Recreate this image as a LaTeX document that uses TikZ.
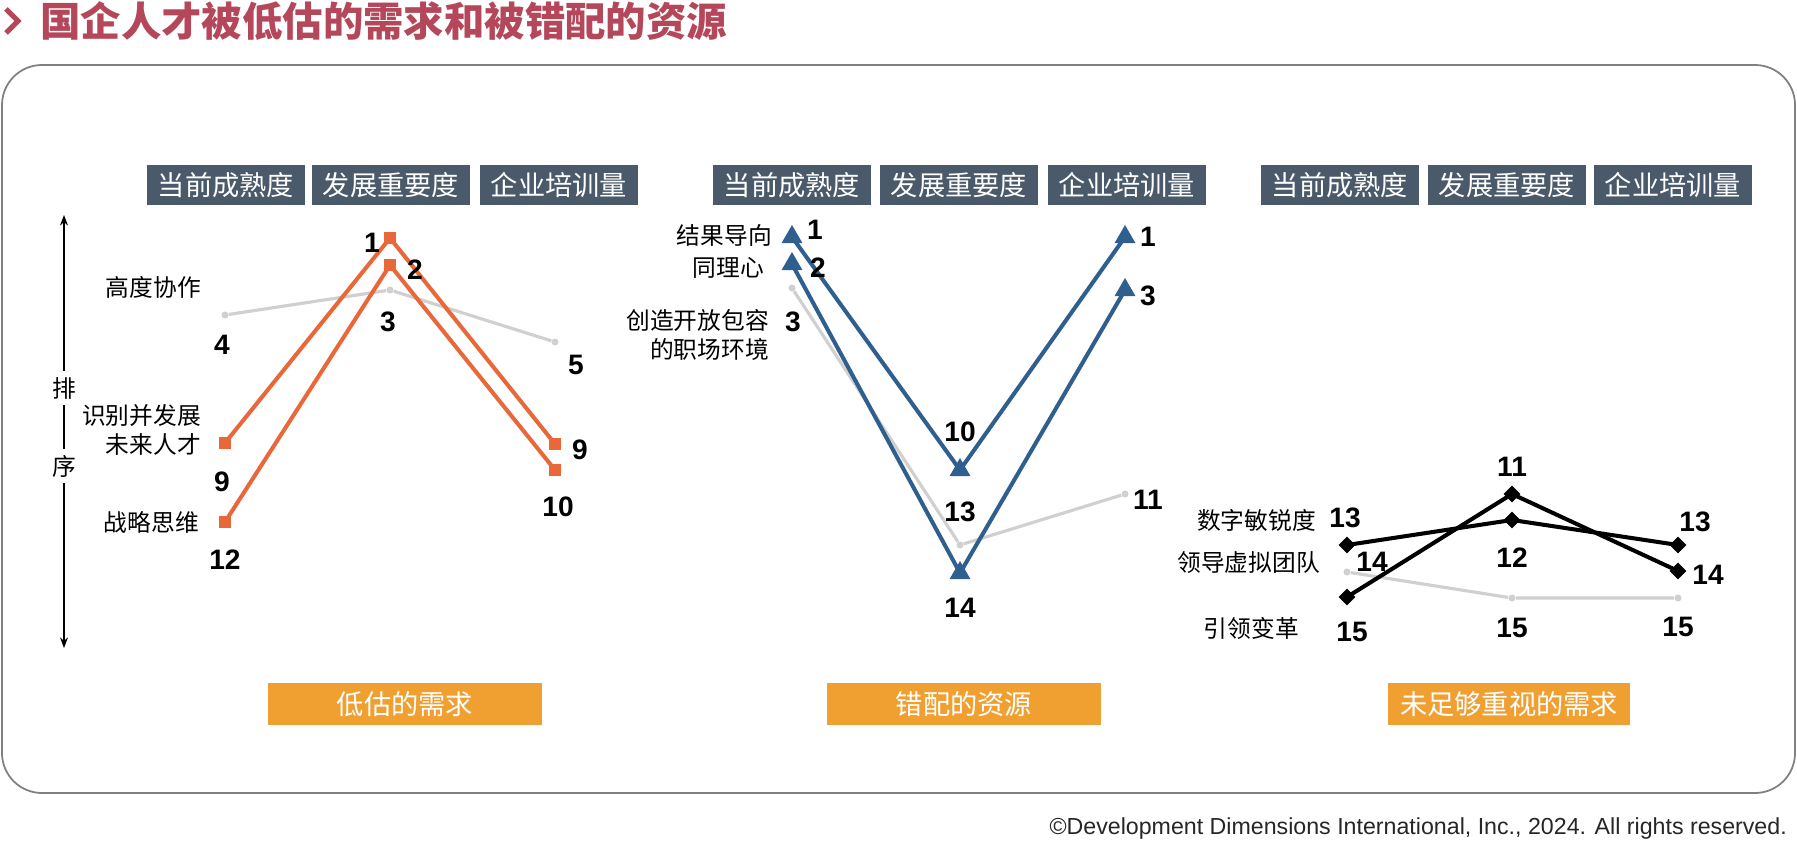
\documentclass[tikz,border=0pt]{standalone}
\usepackage{fontspec}
\setmainfont{Liberation Sans}
\newfontfamily\cjk{Noto Sans CJK SC}
\usetikzlibrary{shapes.geometric,arrows.meta}
\definecolor{ttl}{HTML}{B5475B}
\definecolor{hdr}{HTML}{4A5A6A}
\definecolor{org}{HTML}{E8683A}
\definecolor{bar}{HTML}{F0A030}
\definecolor{blu}{HTML}{2E5F8F}
\definecolor{gry}{HTML}{D0D0D0}
\begin{document}
\begin{tikzpicture}[x=0.02cm,y=-0.02cm,
  hbox/.style={fill=hdr,text=white,font=\cjk\fontsize{15.5}{17}\selectfont,minimum width=158*0.02cm,minimum height=40*0.02cm,inner sep=0pt},
  bbox/.style={fill=bar,text=white,font=\cjk\fontsize{15.5}{17}\selectfont,minimum height=42*0.02cm,inner sep=0pt},
  lbl/.style={font=\cjk\fontsize{13.5}{17}\selectfont,align=right},
  num/.style={font=\bfseries\fontsize{16}{18}\selectfont},
  sq/.style={rectangle,fill=org,minimum size=12*0.02cm,inner sep=0pt},
  tri/.style={isosceles triangle,isosceles triangle apex angle=60,shape border rotate=90,fill=blu,minimum size=18*0.02cm,inner sep=0pt},
  dia/.style={diamond,fill=black,minimum size=17*0.02cm,inner sep=0pt},
  dot/.style={circle,fill=gry,minimum size=7*0.02cm,inner sep=0pt},
  oline/.style={org,line width=2.3pt},
  bline/.style={blu,line width=2.3pt},
  kline/.style={black,line width=2.3pt},
  gline/.style={gry,line width=1.8pt}]
\useasboundingbox (0,0) rectangle (1797,841);
% title
\draw[ttl,line width=3pt] (6,9) -- (18,21) -- (6,33);
\node[anchor=west,text=ttl,font=\cjk\bfseries\fontsize{23}{26}\selectfont] (title) at (34,21) {国企人才被低估的需求和被错配的资源};
\draw[gray,line width=1pt,rounded corners=40*0.02cm] (2,65) rectangle (1795,793);
\node[anchor=east,font=\fontsize{13.2}{15}\selectfont,text=black!85] (copy) at (1793,828) {©Development Dimensions International, Inc., 2024. All rights reserved.};
% axis
\coordinate (at) at (64,215); \coordinate (ab) at (64,648);
\draw[{Stealth[length=6pt]}-{Stealth[length=6pt]},line width=0.8pt] (at) -- (ab);
\node[fill=white,lbl] (p1) at (64,388) {排};
\node[fill=white,lbl] (p2) at (64,466) {序};
% headers
\foreach \x/\t [count=\i] in {226/当前成熟度,391/发展重要度,559/企业培训量,792/当前成熟度,959/发展重要度,1127/企业培训量,1340/当前成熟度,1507/发展重要度,1673/企业培训量}
  \node[hbox] (h\i) at (\x,185) {\t};
% bars
\node[bbox,minimum width=274*0.02cm] (b1) at (405,704) {低估的需求};
\node[bbox,minimum width=274*0.02cm] (b2) at (964,704) {错配的资源};
\node[bbox,minimum width=242*0.02cm] (b3) at (1509,704) {未足够重视的需求};
% panel 1
\node[dot] (g1) at (225,315) {}; \node[dot] (g2) at (390,290) {}; \node[dot] (g3) at (555,342) {};
\draw[gline] (g1) -- (g2) -- (g3);
\coordinate (oa1) at (225,443); \coordinate (oa2) at (390,238); \coordinate (oa3) at (555,444);
\coordinate (ob1) at (225,522); \coordinate (ob2) at (390,265); \coordinate (ob3) at (555,470);
\draw[oline] (oa1) -- (oa2) -- (oa3); \draw[oline] (ob1) -- (ob2) -- (ob3);
\foreach \c in {oa1,oa2,oa3,ob1,ob2,ob3} \node[sq] at (\c) {};
\node[num] (n1) at (222,345) {4}; \node[num] (n2) at (388,322) {3}; \node[num] (n3) at (576,365) {5};
\node[num] (n4) at (222,482) {9}; \node[num] (n5) at (372,243) {1}; \node[num] (n6) at (580,450) {9};
\node[num] (n7) at (225,560) {12}; \node[num] (n8) at (415,270) {2}; \node[num] (n9) at (558,507) {10};
\node[lbl,anchor=east] (l1) at (207,287) {高度协作};
\node[lbl,anchor=east] (l2) at (207,430) {识别并发展\\未来人才};
\node[lbl,anchor=east] (l3) at (205,522) {战略思维};
% panel 2
\node[dot] (q1) at (792,288) {}; \node[dot] (q2) at (960,545) {}; \node[dot] (q3) at (1125,494) {};
\draw[gline] (q1) -- (q2) -- (q3);
\coordinate (ba1) at (792,237); \coordinate (ba2) at (960,470); \coordinate (ba3) at (1125,237);
\coordinate (bb1) at (792,264); \coordinate (bb2) at (960,573); \coordinate (bb3) at (1125,290);
\draw[bline] (ba1) -- (ba2) -- (ba3); \draw[bline] (bb1) -- (bb2) -- (bb3);
\foreach \c in {ba1,ba2,ba3,bb1,bb2,bb3} \node[tri] at (\c) {};
\node[num] (m1) at (815,230) {1}; \node[num] (m2) at (960,432) {10}; \node[num] (m3) at (1148,237) {1};
\node[num] (m4) at (818,268) {2}; \node[num] (m5) at (960,608) {14}; \node[num] (m6) at (1148,296) {3};
\node[num] (m7) at (793,322) {3}; \node[num] (m8) at (960,512) {13}; \node[num] (m9) at (1148,500) {11};
\node[lbl,anchor=east] (k1) at (778,235) {结果导向};
\node[lbl,anchor=east] (k2) at (770,268) {同理心};
\node[lbl,anchor=east] (k3) at (775,335) {创造开放包容\\的职场环境};
% panel 3
\node[dot] (r1) at (1347,572) {}; \node[dot] (r2) at (1512,598) {}; \node[dot] (r3) at (1678,598) {};
\draw[gline] (r1) -- (r2) -- (r3);
\coordinate (da1) at (1347,545); \coordinate (da2) at (1512,520); \coordinate (da3) at (1678,545);
\coordinate (db1) at (1347,597); \coordinate (db2) at (1512,494); \coordinate (db3) at (1678,571);
\draw[kline] (da1) -- (da2) -- (da3); \draw[kline] (db1) -- (db2) -- (db3);
\foreach \c in {da1,da2,da3,db1,db2,db3} \node[dia] at (\c) {};
\node[num] (s1) at (1345,518) {13}; \node[num] (s2) at (1512,558) {12}; \node[num] (s3) at (1695,522) {13};
\node[num] (s4) at (1352,632) {15}; \node[num] (s5) at (1512,467) {11}; \node[num] (s6) at (1708,575) {14};
\node[num] (s7) at (1372,562) {14}; \node[num] (s8) at (1512,628) {15}; \node[num] (s9) at (1678,627) {15};
\node[lbl,anchor=east] (t1) at (1322,520) {数字敏锐度};
\node[lbl,anchor=east] (t2) at (1326,563) {领导虚拟团队};
\node[lbl,anchor=east] (t3) at (1305,628) {引领变革};
\end{tikzpicture}
\end{document}
